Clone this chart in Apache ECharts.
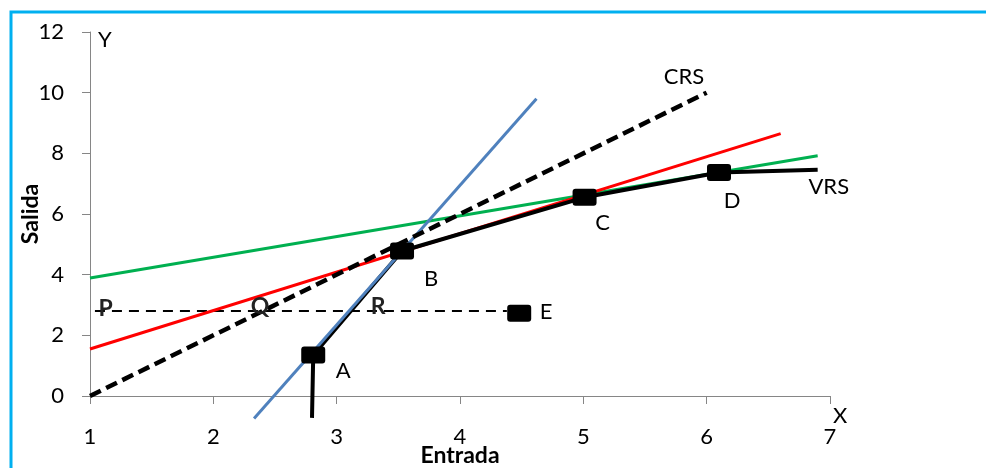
<!DOCTYPE html>
<html>
<head>
<meta charset="utf-8">
<script src="https://cdn.jsdelivr.net/npm/echarts@6/dist/echarts.min.js"></script>
<style>html,body{margin:0;padding:0;background:#fff}#c{width:986px;height:468px}</style>
</head>
<body>
<div id="c"></div>
<script>
// ---- data ----
const xTickMin = 1, xTickMax = 7, xTickStep = 1;
const yTickMin = 0, yTickMax = 12, yTickStep = 2;
const crsLine = [[1, 0], [6, 10]];
const blueLine = [[2.33, -0.74], [4.62, 9.8]];
const redLine = [[1, 1.55], [6.6, 8.65]];
const greenLine = [[1, 3.89], [6.9, 7.92]];
const vrsLine = [[2.80, -0.72], [2.81, 1.35], [3.53, 4.78], [5.01, 6.55], [6.10, 7.37], [6.90, 7.46]];
const pqrLine = [[1.04, 2.8], [4.38, 2.8]];
const firmNames = ['A', 'B', 'C', 'D', 'E'];
const firmX = [2.81, 3.53, 5.01, 6.10, 4.48];
const firmY = [1.35, 4.78, 6.55, 7.37, 2.73];
const boldTags = ['P', 'Q', 'R'];
const boldTagX = [1.126, 2.378, 3.336];
const boldTagY = [2.89, 2.94, 2.94];
const curveTags = ['CRS', 'VRS'];
const curveTagX = [5.816, 6.99];
const curveTagY = [10.51, 6.88];

// ---- styling ----
const FONT = 'Lato';
const labelOffsets = [[30, 16], [29, 28], [18, 26], [13, 28], [27, -1]];
const MARKER = 'path://M3,0 H21 Q24,0 24,3 V14 Q24,17 21,17 H3 Q0,17 0,14 V3 Q0,0 3,0 Z';

const chart = echarts.init(document.getElementById('c'), null, {renderer: 'canvas'});
const lineSeries = (data, color, width, type, z) => ({
  type: 'line', data: data, showSymbol: false, clip: false, silent: true, z: z,
  lineStyle: {color: color, width: width, type: type, cap: 'butt'}
});

chart.setOption({
  animation: false,
  grid: {left: 90, top: 32, right: 156, bottom: 72, containLabel: false, outerBoundsMode: 'none'},
  xAxis: {
    type: 'value', min: xTickMin, max: xTickMax, interval: xTickStep,
    name: 'Entrada', nameLocation: 'middle', nameGap: 48, nameMoveOverlap: false,
    nameTextStyle: {fontFamily: FONT, fontWeight: 'bold', fontSize: 23, color: '#000'},
    axisLine: {onZero: false, lineStyle: {color: '#868686', width: 1}},
    axisTick: {show: true, length: 8, lineStyle: {color: '#868686'}},
    axisLabel: {fontFamily: FONT, fontSize: 22, color: '#000', margin: 30},
    splitLine: {show: false}
  },
  yAxis: {
    type: 'value', min: yTickMin, max: yTickMax, interval: yTickStep,
    name: 'Salida', nameLocation: 'middle', nameGap: 48, nameRotate: 90, nameMoveOverlap: false,
    nameTextStyle: {fontFamily: FONT, fontWeight: 'bold', fontSize: 23, color: '#000'},
    axisLine: {show: true, lineStyle: {color: '#868686', width: 1}},
    axisTick: {show: true, length: 8, lineStyle: {color: '#868686'}},
    axisLabel: {fontFamily: FONT, fontSize: 22, color: '#000', margin: 26},
    splitLine: {show: false}
  },
  graphic: [
    {type: 'rect', shape: {x: 11, y: 12, width: 1100, height: 600}, style: {fill: 'none', stroke: '#00b0f0', lineWidth: 3}, silent: true},
    {type: 'text', left: 98, top: 29, style: {text: 'Y', font: '22px ' + FONT, fill: '#000'}},
    {type: 'text', left: 833, top: 405, style: {text: 'X', font: '22px ' + FONT, fill: '#000'}}
  ],
  series: [
    lineSeries(pqrLine, '#000', 2, [10, 7], 2),
    lineSeries(greenLine, '#00b050', 3, 'solid', 3),
    lineSeries(redLine, '#ff0000', 3, 'solid', 4),
    lineSeries(vrsLine, '#000', 4, 'solid', 5),
    lineSeries(blueLine, '#4f81bd', 3, 'solid', 6),
    lineSeries(crsLine, '#000', 4.5, [12, 6], 7),
    {
      type: 'scatter', z: 8, silent: true, symbol: MARKER, symbolSize: [24, 17],
      itemStyle: {color: '#000', opacity: 1},
      data: firmNames.map((n, i) => ({
        value: [firmX[i], firmY[i]],
        label: {show: true, formatter: n, position: 'inside', offset: labelOffsets[i],
                fontFamily: FONT, fontSize: 22, color: '#000'}
      }))
    },
    {
      type: 'scatter', z: 9, silent: true, symbolSize: 0, itemStyle: {opacity: 1},
      data: boldTags.map((n, i) => ({
        value: [boldTagX[i], boldTagY[i]],
        label: {show: true, formatter: n, position: 'inside', fontFamily: FONT, fontWeight: 'bold', fontSize: 23, color: '#222'}
      }))
    },
    {
      type: 'scatter', z: 9, silent: true, symbolSize: 0, itemStyle: {opacity: 1},
      data: curveTags.map((n, i) => ({
        value: [curveTagX[i], curveTagY[i]],
        label: {show: true, formatter: n, position: 'inside', fontFamily: FONT, fontSize: 22, color: '#000'}
      }))
    }
  ]
});
</script>
</body>
</html>
